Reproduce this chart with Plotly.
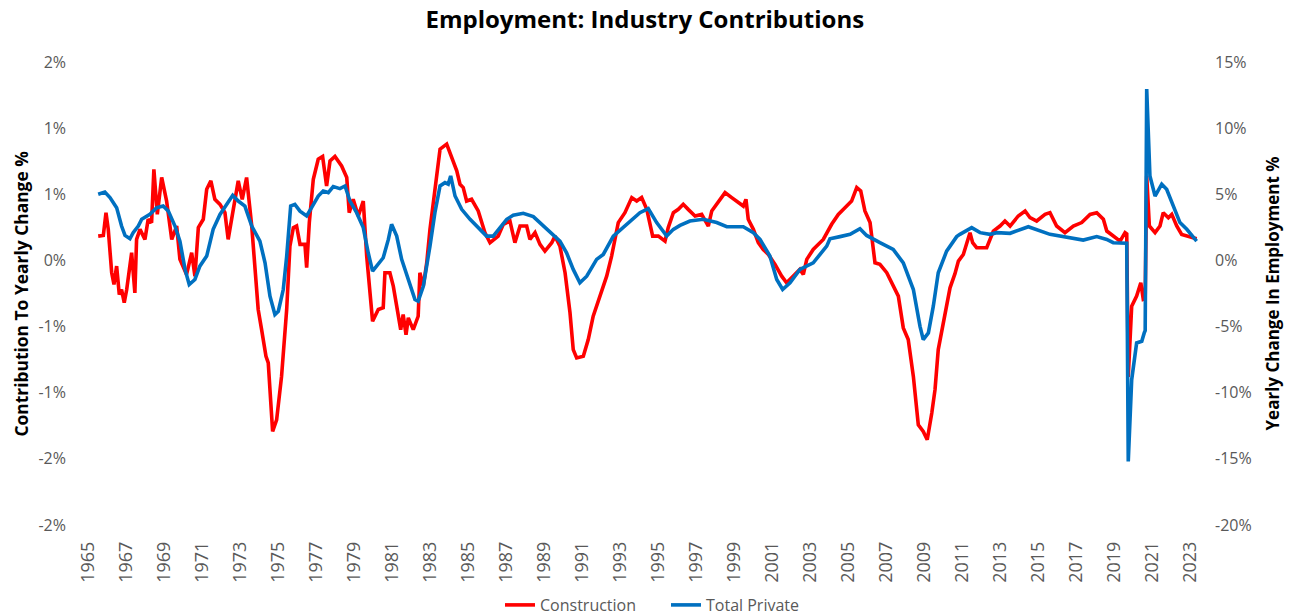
import plotly.graph_objects as go

# ---------------- data ----------------
construction_year = [
    1965.54, 1965.81, 1965.95, 1966.07, 1966.25, 1966.37, 1966.51, 1966.65, 1966.77, 1966.91,
    1967.04, 1967.30, 1967.47, 1967.56, 1967.74, 1968.00, 1968.17, 1968.35, 1968.47, 1968.65,
    1968.88, 1969.14, 1969.41, 1969.67, 1969.84, 1970.19, 1970.46, 1970.63, 1970.81, 1971.07,
    1971.25, 1971.47, 1971.68, 1971.95, 1972.21, 1972.38, 1972.65, 1972.91, 1973.12, 1973.35,
    1973.62, 1973.79, 1973.96, 1974.14, 1974.37, 1974.49, 1974.72, 1974.93, 1975.19, 1975.46,
    1975.63, 1975.81, 1975.98, 1976.16, 1976.42, 1976.51, 1976.65, 1976.86, 1977.12, 1977.35,
    1977.56, 1977.74, 1978.00, 1978.35, 1978.62, 1978.75, 1978.96, 1979.23, 1979.49, 1979.67,
    1979.98, 1980.28, 1980.54, 1980.63, 1980.89, 1981.07, 1981.33, 1981.46, 1981.59, 1981.74,
    1981.86, 1982.12, 1982.38, 1982.47, 1982.65, 1982.83, 1983.00, 1983.26, 1983.53, 1983.88,
    1984.14, 1984.41, 1984.58, 1984.75, 1984.93, 1985.19, 1985.54, 1985.89, 1986.16, 1986.59,
    1986.86, 1987.21, 1987.47, 1987.74, 1988.09, 1988.26, 1988.53, 1988.79, 1989.05, 1989.41,
    1989.58, 1989.84, 1990.11, 1990.37, 1990.54, 1990.72, 1991.07, 1991.33, 1991.59, 1991.95,
    1992.30, 1992.56, 1992.91, 1993.26, 1993.62, 1993.88, 1994.14, 1994.41, 1994.72, 1995.02,
    1995.37, 1995.54, 1995.81, 1996.07, 1996.33, 1996.59, 1996.95, 1997.30, 1997.47, 1997.65,
    1997.83, 1998.17, 1998.53, 1998.88, 1999.23, 1999.49, 1999.63, 1999.75, 2000.02, 2000.28,
    2000.54, 2000.81, 2001.16, 2001.51, 2001.77, 2002.12, 2002.47, 2002.65, 2002.83, 2003.17,
    2003.70, 2004.14, 2004.49, 2004.84, 2005.19, 2005.46, 2005.67, 2005.89, 2006.16, 2006.42,
    2006.68, 2007.04, 2007.38, 2007.65, 2007.91, 2008.17, 2008.44, 2008.70, 2008.96, 2009.17,
    2009.41, 2009.58, 2009.75, 2010.11, 2010.37, 2010.63, 2010.81, 2011.07, 2011.25, 2011.42,
    2011.56, 2011.77, 2012.30, 2012.65, 2013.00, 2013.26, 2013.53, 2013.96, 2014.32, 2014.58,
    2014.93, 2015.37, 2015.63, 2015.98, 2016.42, 2016.86, 2017.30, 2017.74, 2018.09, 2018.44,
    2018.62, 2018.96, 2019.32, 2019.58, 2019.67, 2019.75, 2019.93, 2020.19, 2020.41, 2020.54,
    2020.64, 2020.72, 2020.86, 2021.16, 2021.42, 2021.59, 2021.86, 2022.04, 2022.30, 2022.56,
    2022.91, 2023.35,
]
construction_pct = [
    0.184, 0.189, 0.361, 0.235, -0.093, -0.182, -0.043, -0.258, -0.220, -0.320,
    -0.220, 0.058, -0.245, 0.159, 0.235, 0.159, 0.311, 0.286, 0.689, 0.348,
    0.627, 0.449, 0.159, 0.260, 0.008, -0.106, 0.058, -0.119, 0.248, 0.311,
    0.538, 0.601, 0.462, 0.424, 0.361, 0.159, 0.386, 0.601, 0.462, 0.627,
    0.260, -0.018, -0.371, -0.523, -0.725, -0.775, -1.293, -1.205, -0.877, -0.371,
    0.108, 0.248, 0.260, 0.121, 0.121, -0.055, 0.286, 0.614, 0.765, 0.786,
    0.563, 0.752, 0.786, 0.714, 0.627, 0.361, 0.462, 0.336, 0.449, 0.033,
    -0.460, -0.371, -0.358, -0.093, -0.093, -0.194, -0.396, -0.523, -0.409, -0.561,
    -0.434, -0.523, -0.422, -0.093, -0.194, -0.018, 0.235, 0.538, 0.841, 0.879,
    0.778, 0.677, 0.576, 0.551, 0.449, 0.462, 0.374, 0.210, 0.134, 0.184,
    0.273, 0.298, 0.134, 0.260, 0.260, 0.159, 0.210, 0.121, 0.070, 0.134,
    0.184, 0.108, -0.093, -0.396, -0.674, -0.737, -0.725, -0.598, -0.422, -0.270,
    -0.119, 0.033, 0.286, 0.361, 0.475, 0.449, 0.475, 0.386, 0.184, 0.184,
    0.146, 0.248, 0.361, 0.386, 0.424, 0.386, 0.336, 0.348, 0.298, 0.260,
    0.374, 0.437, 0.513, 0.475, 0.437, 0.411, 0.462, 0.311, 0.235, 0.134,
    0.083, 0.045, -0.030, -0.119, -0.169, -0.119, -0.068, -0.106, 0.008, 0.083,
    0.159, 0.273, 0.348, 0.399, 0.449, 0.551, 0.525, 0.374, 0.286, -0.018,
    -0.030, -0.093, -0.194, -0.270, -0.510, -0.598, -0.877, -1.242, -1.293, -1.356,
    -1.154, -0.977, -0.674, -0.396, -0.207, -0.100, -0.005, 0.045, 0.134, 0.210,
    0.134, 0.096, 0.096, 0.222, 0.260, 0.298, 0.260, 0.336, 0.374, 0.323,
    0.298, 0.348, 0.361, 0.260, 0.210, 0.260, 0.286, 0.348, 0.361, 0.311,
    0.222, 0.184, 0.146, 0.210, 0.200, -0.880, -0.346, -0.270, -0.169, -0.295,
    -0.290, 0.639, 0.260, 0.210, 0.260, 0.361, 0.323, 0.348, 0.260, 0.197,
    0.184, 0.164,
]

private_year = [
    1965.54, 1965.89, 1966.16, 1966.51, 1966.77, 1966.95, 1967.21, 1967.38, 1967.65, 1967.83,
    1968.26, 1968.62, 1968.96, 1969.23, 1969.58, 1969.84, 1970.11, 1970.33, 1970.63, 1970.89,
    1971.25, 1971.59, 1971.95, 1972.30, 1972.62, 1972.91, 1973.26, 1973.62, 1974.05, 1974.32,
    1974.58, 1974.84, 1975.02, 1975.28, 1975.46, 1975.67, 1975.89, 1976.16, 1976.51, 1976.77,
    1977.12, 1977.38, 1977.65, 1977.91, 1978.26, 1978.53, 1978.79, 1979.14, 1979.49, 1979.75,
    1979.98, 1980.54, 1980.81, 1980.98, 1981.25, 1981.51, 1981.86, 1982.21, 1982.38, 1982.65,
    1983.00, 1983.26, 1983.53, 1983.79, 1983.96, 1984.09, 1984.32, 1984.67, 1985.11, 1985.63,
    1985.98, 1986.33, 1986.68, 1987.04, 1987.38, 1987.91, 1988.44, 1988.79, 1989.32, 1989.84,
    1990.19, 1990.54, 1990.89, 1991.25, 1991.77, 1992.12, 1992.65, 1993.35, 1994.05, 1994.49,
    1994.93, 1995.46, 1995.81, 1996.16, 1996.68, 1997.38, 1998.09, 1998.62, 1999.49, 2000.02,
    2000.37, 2000.89, 2001.25, 2001.56, 2001.95, 2002.47, 2003.17, 2003.88, 2004.05, 2004.58,
    2005.11, 2005.63, 2005.98, 2006.68, 2007.38, 2007.91, 2008.44, 2008.79, 2008.96, 2009.23,
    2009.49, 2009.75, 2010.19, 2010.72, 2010.89, 2011.51, 2011.95, 2012.47, 2012.83, 2013.53,
    2014.49, 2015.63, 2016.51, 2017.38, 2018.09, 2018.62, 2018.96, 2019.58, 2019.67, 2019.75,
    2019.93, 2020.19, 2020.46, 2020.59, 2020.64, 2020.72, 2020.89, 2021.16, 2021.51, 2021.77,
    2022.12, 2022.47, 2022.83, 2023.35,
]
private_pct = [
    5.00, 5.17, 4.75, 3.99, 2.60, 1.89, 1.64, 2.10, 2.60, 3.11,
    3.48, 3.99, 4.11, 3.73, 2.60, 1.46, -0.68, -1.82, -1.44, -0.43,
    0.33, 2.35, 3.48, 4.24, 4.92, 4.49, 4.11, 2.60, 1.46, -0.18,
    -2.70, -4.09, -3.84, -2.20, 0.33, 4.11, 4.24, 3.73, 3.36, 3.99,
    4.87, 5.25, 5.13, 5.58, 5.43, 5.63, 4.49, 3.61, 2.48, 0.58,
    -0.81, 0.20, 1.59, 2.73, 1.84, 0.08, -1.44, -2.95, -3.08, -1.95,
    1.08, 3.61, 5.63, 5.88, 5.76, 6.39, 4.87, 3.86, 3.11, 2.35,
    1.84, 1.84, 2.48, 3.11, 3.41, 3.56, 3.31, 2.86, 2.10, 1.46,
    0.58, -0.68, -1.69, -1.19, 0.08, 0.45, 1.84, 2.73, 3.61, 3.92,
    2.86, 1.84, 2.35, 2.65, 2.98, 3.11, 2.86, 2.55, 2.55, 2.10,
    1.59, 0.33, -1.44, -2.20, -1.69, -0.68, -0.18, 1.08, 1.64, 1.80,
    1.97, 2.40, 1.89, 1.34, 0.83, -0.18, -2.20, -4.98, -5.98, -5.48,
    -3.46, -0.93, 0.70, 1.80, 1.97, 2.48, 2.10, 1.97, 2.10, 2.05,
    2.55, 1.97, 1.72, 1.54, 1.80, 1.59, 1.34, 1.34, 1.30, -15.20,
    -9.02, -6.24, -6.11, -5.48, -5.30, 12.95, 6.39, 4.87, 5.76, 5.38,
    4.11, 2.86, 2.35, 1.46,
]

year_ticks = list(range(1965, 2024, 2))
year_labels = [str(y) for y in year_ticks]
left_ticks = [-2.0, -1.5, -1.0, -0.5, 0.0, 0.5, 1.0, 1.5]
left_labels = ["-2%", "-2%", "-1%", "-1%", "0%", "1%", "1%", "2%"]
right_ticks = [-20, -15, -10, -5, 0, 5, 10, 15]
right_labels = ["-20%", "-15%", "-10%", "-5%", "0%", "5%", "10%", "15%"]

# ---------------- styling ----------------
FONT = "Open Sans"
GREY = "#595959"
X_RANGE = [1964.74, 2023.42]
zero_ticks = [X_RANGE[0] + 2 * k for k in range(30)]

fig = go.Figure()
fig.add_trace(go.Scatter(
    x=construction_year, y=construction_pct, name="Construction",
    mode="lines", line=dict(color="#ff0000", width=3.6),
    xaxis="x", yaxis="y",
))
fig.add_trace(go.Scatter(
    x=private_year, y=private_pct, name="Total Private",
    mode="lines", line=dict(color="#0070c0", width=3.6),
    xaxis="x", yaxis="y2",
))

fig.update_layout(
    width=1300, height=615,
    margin=dict(l=83, r=102, t=62, b=90, autoexpand=False),
    paper_bgcolor="white", plot_bgcolor="white",
    font=dict(family=FONT, color=GREY, size=16),
    title=dict(text="<b>Employment: Industry Contributions</b>",
               x=0.496, xref="container", xanchor="center",
               y=1 - 20 / 615, yref="container", yanchor="middle",
               font=dict(family=FONT, size=24, color="black")),
    showlegend=True,
    legend=dict(orientation="h", x=(500 - 83) / 1115, xanchor="left",
                y=(525 - 605) / 463, yanchor="middle",
                entrywidth=121, entrywidthmode="pixels",
                font=dict(family=FONT, size=16, color=GREY),
                bgcolor="rgba(0,0,0,0)"),
    xaxis=dict(range=X_RANGE, tickmode="array", tickvals=year_ticks, ticktext=year_labels,
               tickangle=-90, showgrid=False, zeroline=False, showline=False, ticks="",
               automargin=False, ticklabelstandoff=12,
               tickfont=dict(family=FONT, size=18, color=GREY)),
    xaxis2=dict(range=X_RANGE, overlaying="x", anchor="free", position=2.0 / 3.5,
                showline=True, linecolor="#d9d9d9", linewidth=1.5,
                ticks="outside", ticklen=5, tickcolor="#d9d9d9", tickwidth=1.5,
                tickmode="array", tickvals=zero_ticks, showticklabels=False,
                showgrid=False, zeroline=False, layer="below traces", automargin=False),
    yaxis=dict(range=[-2.0, 1.5], tickmode="array", tickvals=left_ticks, ticktext=left_labels,
               showgrid=False, zeroline=False, showline=False, ticks="", automargin=False,
               ticklabelstandoff=16, tickfont=dict(family=FONT, size=16, color=GREY)),
    yaxis2=dict(range=[-20, 15], overlaying="y", side="right", anchor="x",
                tickmode="array", tickvals=right_ticks, ticktext=right_labels,
                showgrid=False, zeroline=False, showline=False, ticks="", automargin=False,
                ticklabelstandoff=16, tickfont=dict(family=FONT, size=16, color=GREY)),
    annotations=[
        dict(text="<b>Contribution To Yearly Change %</b>", textangle=-90,
             xref="paper", yref="paper", x=(20 - 83) / 1115, y=0.5,
             xanchor="center", yanchor="middle", showarrow=False,
             font=dict(family=FONT, size=17.4, color="black")),
        dict(text="<b>Yearly Change In Employment %</b>", textangle=-90,
             xref="paper", yref="paper", x=(1272 - 83) / 1115, y=0.5,
             xanchor="center", yanchor="middle", showarrow=False,
             font=dict(family=FONT, size=17, color="black")),
    ],
)

fig.write_html("out.html", config={"displayModeBar": False},
               post_script="document.body.style.margin='0';")
